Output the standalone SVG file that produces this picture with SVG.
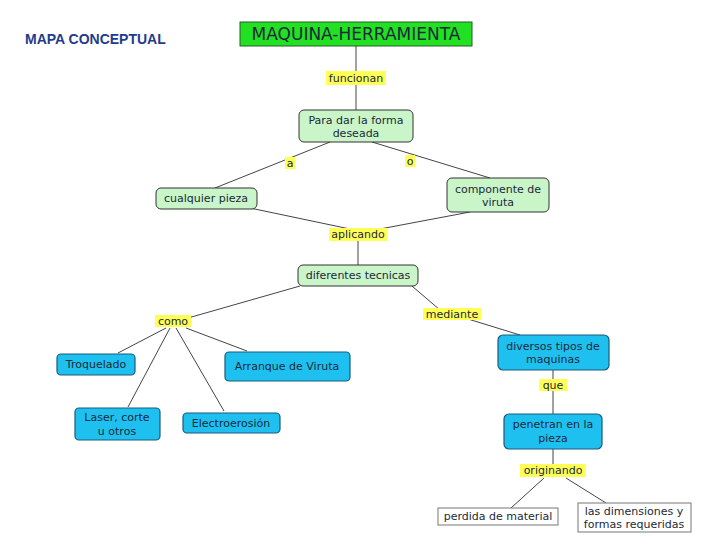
<svg xmlns="http://www.w3.org/2000/svg" width="728" height="546" viewBox="0 0 728 546">
<style>
text{font-family:"DejaVu Sans",Verdana,sans-serif;font-size:11px;fill:#1a2a3a;text-anchor:middle}
.lk{fill:#ffff55}
.gr{fill:#c9f5c9;stroke:#333;stroke-width:1}
.bl{fill:#1ec0f0;stroke:#1a5a7a;stroke-width:1.2}
.wh{fill:#fff;stroke:#777;stroke-width:1}
#edges line{stroke:#444;stroke-width:1}
</style>
<rect width="728" height="546" fill="#fff"/>
<text x="25" y="44" style="font-family:'Liberation Sans',Arial,sans-serif;font-weight:bold;font-size:14px;fill:#1f3c8c;text-anchor:start">MAPA CONCEPTUAL</text>
<g id="edges">
<line x1="356" y1="45" x2="356" y2="110"/>
<line x1="330" y1="142" x2="215" y2="188"/>
<line x1="372" y1="142" x2="490" y2="178"/>
<line x1="250" y1="208" x2="350" y2="229"/>
<line x1="470" y1="212" x2="380" y2="229"/>
<line x1="358" y1="240" x2="358" y2="265"/>
<line x1="300" y1="286" x2="188" y2="318"/>
<line x1="412" y1="286" x2="440" y2="310"/>
<line x1="468" y1="319" x2="520" y2="335"/>
<line x1="166" y1="328" x2="118" y2="353"/>
<line x1="170" y1="328" x2="128" y2="407"/>
<line x1="176" y1="328" x2="224" y2="411"/>
<line x1="186" y1="328" x2="247" y2="351"/>
<line x1="553" y1="370" x2="553" y2="414"/>
<line x1="553" y1="449" x2="553" y2="464"/>
<line x1="544" y1="478" x2="511" y2="508"/>
<line x1="566" y1="478" x2="606" y2="503"/>
</g>
<g id="title"><rect x="240" y="22" width="232" height="24" fill="#22e022" stroke="#2a5a2a"/><text x="356" y="40" style="font-size:17px">MAQUINA-HERRAMIENTA</text></g>
<g id="l-funcionan"><rect class="lk" x="326" y="71" width="60" height="14"/><text x="356" y="82">funcionan</text></g>
<g id="n-para"><rect class="gr" x="299" y="110" width="114" height="32" rx="5"/><text x="356" y="124">Para dar la forma</text><text x="356" y="137">deseada</text></g>
<g id="l-a"><rect class="lk" x="285" y="157" width="10" height="12"/><text x="290" y="167">a</text></g>
<g id="l-o"><rect class="lk" x="405" y="155" width="10" height="12"/><text x="410" y="165">o</text></g>
<g id="n-cualquier"><rect class="gr" x="156" y="188" width="101" height="21" rx="5"/><text x="206" y="202">cualquier pieza</text></g>
<g id="n-componente"><rect class="gr" x="447" y="178" width="102" height="34" rx="5"/><text x="498" y="193">componente de</text><text x="498" y="206">viruta</text></g>
<g id="l-aplicando"><rect class="lk" x="329" y="228" width="58" height="13"/><text x="358" y="238">aplicando</text></g>
<g id="n-diferentes"><rect class="gr" x="298" y="265" width="120" height="21" rx="5"/><text x="358" y="279">diferentes tecnicas</text></g>
<g id="l-como"><rect class="lk" x="155" y="315" width="36" height="12"/><text x="173" y="325">como</text></g>
<g id="l-mediante"><rect class="lk" x="423" y="308" width="58" height="12"/><text x="452" y="318">mediante</text></g>
<g id="n-troquelado"><rect class="bl" x="57" y="354" width="78" height="21" rx="4"/><text x="96" y="368">Troquelado</text></g>
<g id="n-arranque"><rect class="bl" x="225" y="352" width="125" height="29" rx="4"/><text x="287" y="370">Arranque de Viruta</text></g>
<g id="n-laser"><rect class="bl" x="75" y="408" width="85" height="32" rx="4"/><text x="117" y="421">Laser, corte</text><text x="117" y="435">u otros</text></g>
<g id="n-electro"><rect class="bl" x="183" y="413" width="97" height="20" rx="4"/><text x="231" y="427">Electroerosión</text></g>
<g id="n-diversos"><rect class="bl" x="498" y="335" width="111" height="35" rx="5"/><text x="553" y="350">diversos tipos de</text><text x="553" y="363">maquinas</text></g>
<g id="l-que"><rect class="lk" x="539" y="379" width="28" height="12"/><text x="553" y="389">que</text></g>
<g id="n-penetran"><rect class="bl" x="504" y="414" width="98" height="35" rx="5"/><text x="553" y="428">penetran en la</text><text x="553" y="442">pieza</text></g>
<g id="l-originando"><rect class="lk" x="520" y="464" width="66" height="13"/><text x="553" y="474">originando</text></g>
<g id="n-perdida"><rect class="wh" x="438" y="508" width="120" height="17"/><text x="498" y="520">perdida de material</text></g>
<g id="n-dimensiones"><rect class="wh" x="578" y="503" width="113" height="29"/><text x="634" y="515">las dimensiones y</text><text x="634" y="528">formas requeridas</text></g>
</svg>
